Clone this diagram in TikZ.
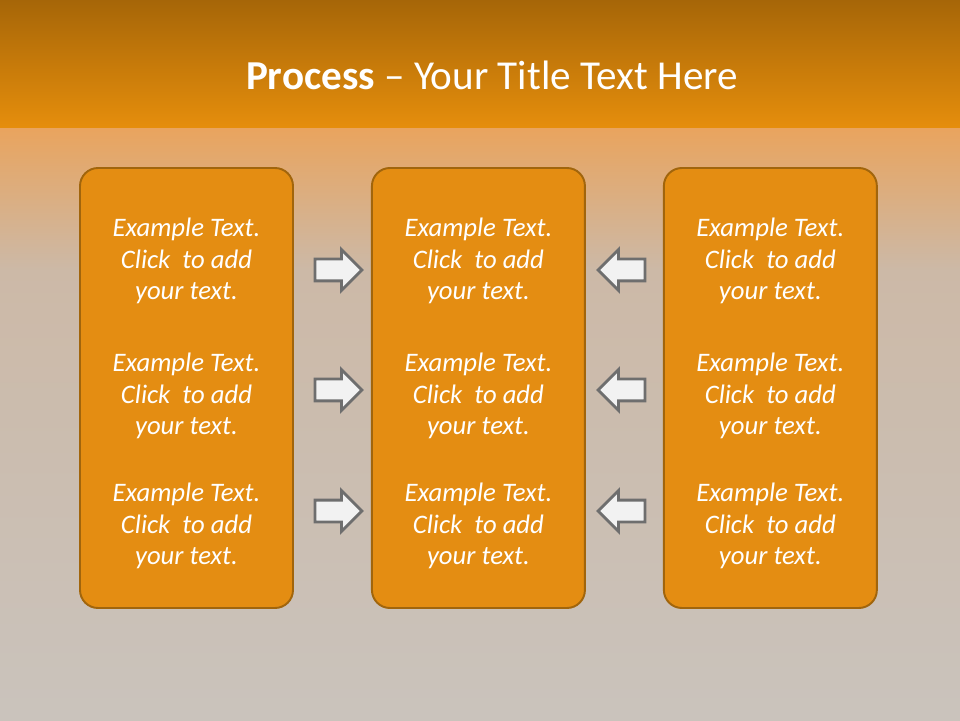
\documentclass[tikz,border=0pt]{standalone}
\usepackage{fontspec}
\setmainfont{Carlito}
\usetikzlibrary{positioning,shapes.arrows}
\definecolor{bandtop}{HTML}{A66608}
\definecolor{bandbot}{HTML}{E68E0C}
\definecolor{glow}{HTML}{E9A45E}
\definecolor{dust}{HTML}{CCB9A7}
\definecolor{ground}{HTML}{CAC3BC}
\definecolor{boxfill}{HTML}{E48D12}
\definecolor{boxline}{HTML}{A1650C}
\definecolor{arrline}{HTML}{6E6E6E}
\definecolor{arrfill}{HTML}{F2F2F2}
\tikzset{
  panel/.style={rectangle, rounded corners=0.36cm, draw=boxline, line width=1.1pt,
    fill=boxfill, minimum width=4.26cm, minimum height=8.8cm},
  txt/.style={align=center, text=white, font=\fontsize{15.2}{18.1}\selectfont\itshape},
  pointer/.style={single arrow, draw=arrline, fill=arrfill, line width=1.6pt,
    inner xsep=0pt, inner ysep=0.19cm, minimum height=0.94cm,
    single arrow head extend=0.19cm},
  back/.style={pointer, shape border rotate=180},
}
\begin{document}
\begin{tikzpicture}[node distance=1.54cm]
    % background
    \useasboundingbox (0,0) rectangle (19.2,14.4);
    \shade[top color=dust, bottom color=ground] (0,0) rectangle (19.2,9.0);
    \shade[top color=glow, bottom color=dust] (0,9.0) rectangle (19.2,11.84);
    \shade[top color=bandtop, bottom color=bandbot] (0,11.84) rectangle (19.2,14.4);
    \node[text=white, font=\fontsize{23.4}{28}\selectfont] (title) at (9.84,12.9)
      {\textbf{Process} -- Your Title Text Here};

    % panels
    \node[panel] (left) at (3.73,6.64) {};
    \node[panel, right=of left] (mid) {};
    \node[panel, right=of mid] (right) {};

    % texts
    \foreach \p in {left,mid,right}{
      \node[txt] (\p-a) at ([yshift=2.54cm]\p.center) {Example Text.\\Click~ to add\\your text.};
      \node[txt] (\p-b) at ([yshift=-0.16cm]\p.center) {Example Text.\\Click~ to add\\your text.};
      \node[txt] (\p-c) at ([yshift=-2.76cm]\p.center) {Example Text.\\Click~ to add\\your text.};
    }

    % arrows
    \node[pointer] (ra) at (6.66,9.0) {};
    \node[pointer] (rb) at (6.66,6.6) {};
    \node[pointer] (rc) at (6.66,4.18) {};
    \node[back] (la) at (12.54,9.0) {};
    \node[back] (lb) at (12.54,6.6) {};
    \node[back] (lc) at (12.54,4.18) {};
\end{tikzpicture}
\end{document}
